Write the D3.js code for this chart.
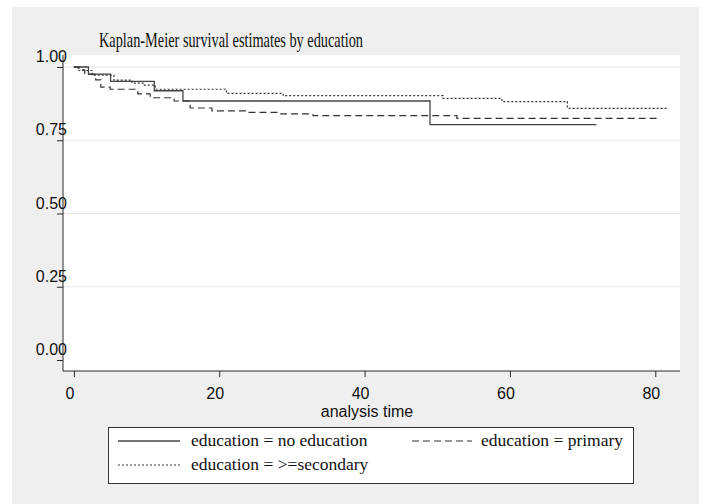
<!DOCTYPE html>
<html>
<head>
<meta charset="utf-8">
<script src="https://cdn.jsdelivr.net/npm/d3@7"></script>
<style>
  html, body { margin: 0; padding: 0; background: #ffffff; }
  svg { display: block; }
</style>
</head>
<body>
<svg id="chart" width="706" height="504"></svg>
<script>
// Kaplan-Meier step estimates, one pair of arrays per education group
const groupNames = ["education = no education", "education = primary", "education = >=secondary"];

const timesNoEducation = [0, 2.0, 5.05, 11.06, 15.0, 49.0, 71.9];
const survNoEducation  = [1.0, 0.976, 0.951, 0.919, 0.884, 0.803, 0.803];

const timesPrimary = [0, 0.7, 1.5, 3.0, 3.7, 5.0, 8.8, 10.5, 13.8, 16.0, 19.0, 24.0, 28.5, 32.9, 52.7, 80.7];
const survPrimary  = [1.0, 0.990, 0.975, 0.956, 0.931, 0.924, 0.908, 0.895, 0.884, 0.860, 0.850, 0.845, 0.840, 0.834, 0.825, 0.825];

const timesSecondary = [0, 0.6, 2.5, 5.5, 8.0, 9.5, 11.2, 21.0, 28.8, 50.8, 58.9, 67.9, 81.8];
const survSecondary  = [1.0, 0.988, 0.972, 0.955, 0.945, 0.938, 0.924, 0.910, 0.902, 0.893, 0.882, 0.859, 0.859];

const xTicks = [0, 20, 40, 60, 80];
const yTicks = [0, 0.25, 0.5, 0.75, 1.0];
const yTickLabels = ["0.00", "0.25", "0.50", "0.75", "1.00"];

const titleText = "Kaplan-Meier survival estimates by education";
const xTitle = "analysis time";

const svg = d3.select("#chart");
const sans = "'Liberation Sans', Arial, sans-serif";
const serif = "'Liberation Serif', 'Times New Roman', serif";
const ink = "#2a2a2a";

// outer panel
svg.append("rect").attr("x", 12).attr("y", 7).attr("width", 687).attr("height", 497).attr("fill", "#efefef");

const plot = { left: 63, right: 680, top: 55, bottom: 371 };
svg.append("rect")
  .attr("x", plot.left).attr("y", plot.top)
  .attr("width", plot.right - plot.left).attr("height", plot.bottom - plot.top)
  .attr("fill", "#ffffff");

const x = d3.scaleLinear().domain([-1.5, 83.4]).range([plot.left, plot.right]);
const y = d3.scaleLinear().domain([0, 1]).range([360, 67]);

// horizontal grid
svg.append("g").selectAll("line")
  .data(yTicks.filter(v => v > 0))
  .join("line")
  .attr("x1", plot.left).attr("x2", plot.right)
  .attr("y1", d => y(d)).attr("y2", d => y(d))
  .attr("stroke", "#e6e6e6").attr("stroke-width", 1);

// axes
const yAxis = svg.append("g")
  .attr("transform", `translate(${plot.left},0)`)
  .call(d3.axisLeft(y).tickValues(yTicks).tickSize(6).tickFormat((d, i) => yTickLabels[i]));
yAxis.select(".domain").attr("d", `M0,${plot.top}V${plot.bottom}`).attr("stroke", ink);
yAxis.selectAll(".tick line").attr("stroke", ink);
yAxis.selectAll(".tick text")
  .attr("x", 4).attr("y", 0).attr("dy", "-0.33em")
  .attr("fill", "#111").style("font-family", sans).style("font-size", "16px");

const xAxis = svg.append("g")
  .attr("transform", `translate(0,${plot.bottom})`)
  .call(d3.axisBottom(x).tickValues(xTicks).tickSize(6).tickFormat(d3.format("d")));
xAxis.select(".domain").attr("d", `M${plot.left},0H${plot.right}`).attr("stroke", ink);
xAxis.selectAll(".tick line").attr("stroke", ink);
xAxis.selectAll(".tick text")
  .attr("x", -4.5).attr("y", 16.5)
  .attr("fill", "#111").style("font-family", sans).style("font-size", "16px");

svg.append("text")
  .attr("x", 367).attr("y", 417).attr("text-anchor", "middle")
  .attr("fill", "#111").style("font-family", sans).style("font-size", "16px")
  .text(xTitle);

// title
svg.append("text")
  .attr("x", 99).attr("y", 47)
  .attr("fill", "#111").style("font-family", serif).style("font-size", "21px")
  .attr("textLength", 264).attr("lengthAdjust", "spacingAndGlyphs")
  .text(titleText);

// survival curves
const styles = [
  { dash: null, width: 1.3, color: "#444" },
  { dash: "7,4", width: 1.2, color: "#333" },
  { dash: "2,2", width: 1.2, color: "#333" }
];
const series = [
  d3.zip(timesNoEducation, survNoEducation),
  d3.zip(timesPrimary, survPrimary),
  d3.zip(timesSecondary, survSecondary)
];
const step = d3.line().x(d => x(d[0])).y(d => y(d[1])).curve(d3.curveStepAfter);

svg.append("g").selectAll("path")
  .data(series)
  .join("path")
  .attr("d", step)
  .attr("fill", "none")
  .attr("stroke", (d, i) => styles[i].color)
  .attr("stroke-width", (d, i) => styles[i].width)
  .attr("stroke-dasharray", (d, i) => styles[i].dash);

// legend
const legend = svg.append("g");
legend.append("rect")
  .attr("x", 108.5).attr("y", 427.5).attr("width", 525).attr("height", 56)
  .attr("fill", "#ffffff").attr("stroke", "#333").attr("stroke-width", 1);

const legendItems = [
  { sx: 118, ex: 180, tx: 191, ly: 441 },
  { sx: 412, ex: 472, tx: 481, ly: 441 },
  { sx: 118, ex: 180, tx: 191, ly: 465 }
];
legendItems.forEach((it, i) => {
  legend.append("line")
    .attr("x1", it.sx).attr("x2", it.ex).attr("y1", it.ly).attr("y2", it.ly)
    .attr("stroke", styles[i].color).attr("stroke-width", styles[i].width)
    .attr("stroke-dasharray", styles[i].dash);
  legend.append("text")
    .attr("x", it.tx).attr("y", it.ly + 5)
    .attr("fill", "#111").style("font-family", serif).style("font-size", "17.5px")
    .text(groupNames[i]);
});
</script>
</body>
</html>
